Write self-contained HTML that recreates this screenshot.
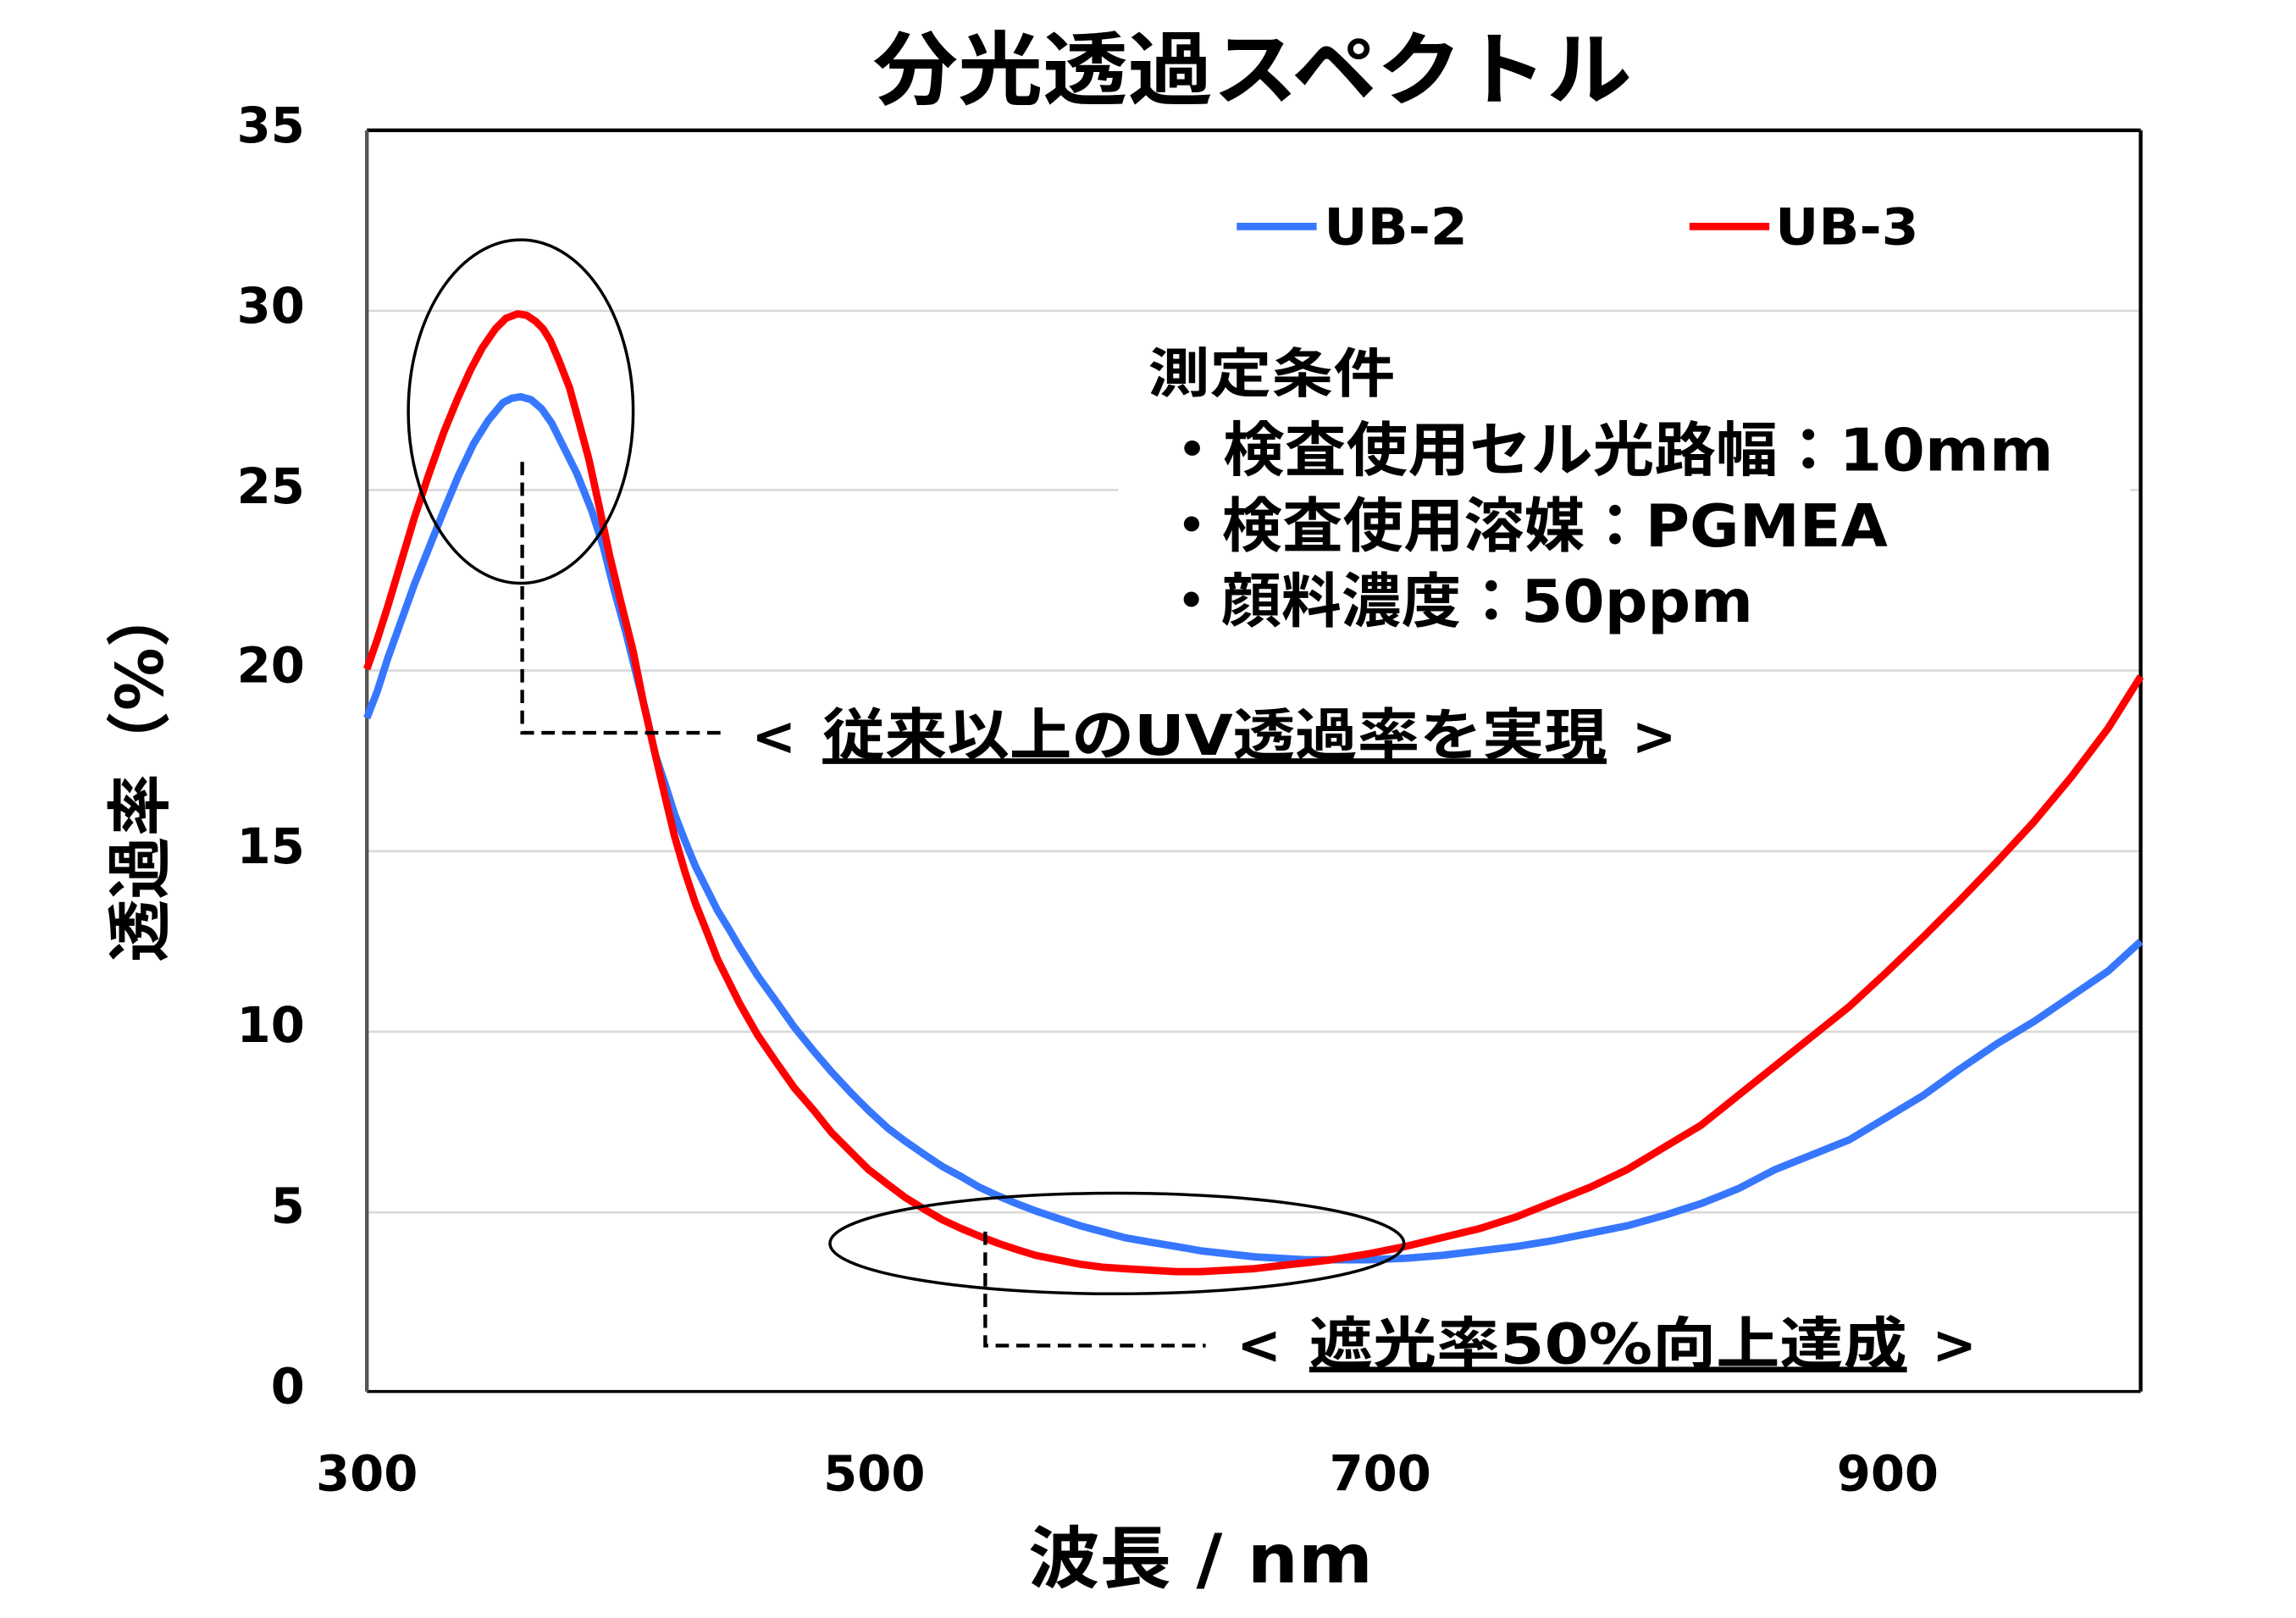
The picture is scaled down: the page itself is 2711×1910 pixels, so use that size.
<!DOCTYPE html>
<html><head><meta charset="utf-8"><style>
html,body{margin:0;padding:0;background:#fff;}
svg{display:block;}
text{font-family:"DejaVu Sans","Noto Sans CJK JP",sans-serif;font-weight:bold;fill:#000;}
</style></head><body>
<svg width="2711" height="1910" viewBox="0 0 1552 1093" preserveAspectRatio="none" xmlns="http://www.w3.org/2000/svg">
<rect width="1552" height="1093" fill="#fff"/>
<text x="590" y="66" font-size="54" textLength="513" lengthAdjust="spacingAndGlyphs">分光透過スペクトル</text>
<g stroke="#d9d9d9" stroke-width="1.5">
<line x1="248" y1="819" x2="1447" y2="819"/>
<line x1="248" y1="697" x2="1447" y2="697"/>
<line x1="248" y1="575" x2="1447" y2="575"/>
<line x1="248" y1="453" x2="1447" y2="453"/>
<line x1="248" y1="331" x2="1447" y2="331"/>
<line x1="248" y1="210" x2="1447" y2="210"/>
</g>
<rect x="756" y="216" width="684" height="225" fill="#fff"/>
<line x1="248" y1="88" x2="1447" y2="88" stroke="#000" stroke-width="2.5"/>
<line x1="1447" y1="88" x2="1447" y2="940" stroke="#000" stroke-width="2.5"/>
<line x1="248" y1="940" x2="1447" y2="940" stroke="#000" stroke-width="2"/>
<line x1="248" y1="88" x2="248" y2="940" stroke="#555" stroke-width="2.5"/>
<g font-size="33" text-anchor="end">
<text x="206" y="96">35</text>
<text x="206" y="218">30</text>
<text x="206" y="340">25</text>
<text x="206" y="461">20</text>
<text x="206" y="583">15</text>
<text x="206" y="704">10</text>
<text x="206" y="826">5</text>
<text x="206" y="948">0</text>
</g>
<g font-size="33" text-anchor="middle">
<text x="248" y="1007">300</text>
<text x="591" y="1007">500</text>
<text x="933" y="1007">700</text>
<text x="1276" y="1007">900</text>
</g>
<text x="695" y="1069" font-size="46" textLength="233" lengthAdjust="spacingAndGlyphs">波長 / nm</text>
<text transform="translate(110,650) rotate(-90)" font-size="44" textLength="255" lengthAdjust="spacingAndGlyphs">透過率（%）</text>
<line x1="836" y1="153" x2="890" y2="153" stroke="#3777ff" stroke-width="5"/>
<text x="895" y="165" font-size="34" textLength="97" lengthAdjust="spacingAndGlyphs">UB-2</text>
<line x1="1142" y1="153" x2="1196" y2="153" stroke="#ff0000" stroke-width="5"/>
<text x="1200" y="165" font-size="34" textLength="97" lengthAdjust="spacingAndGlyphs">UB-3</text>
<text x="776" y="265" font-size="36" textLength="167" lengthAdjust="spacingAndGlyphs">測定条件</text>
<text x="785" y="318" font-size="40" fill="#222" textLength="603" lengthAdjust="spacingAndGlyphs">・検査使用セル光路幅：10mm</text>
<text x="785" y="369" font-size="40" textLength="491" lengthAdjust="spacingAndGlyphs">・検査使用溶媒：PGMEA</text>
<text x="785" y="420" font-size="40" textLength="400" lengthAdjust="spacingAndGlyphs">・顔料濃度：50ppm</text>
<polyline fill="none" stroke="#3777ff" stroke-width="5" stroke-linejoin="round" points="248,485 255,467 262,445 271,420 280,395 290,370 300,345 310,321 320,300 330,284 340,272 346,269 352,268 359,270 366,276 373,286 380,300 390,320 400,345 408,370 415,398 423,427 430,455 437,483 443,510 450,531 456,550 463,568 470,585 478,601 485,615 493,628 500,640 512,659 525,677 537,694 550,710 562,724 575,738 587,750 600,762 612,771 625,780 637,788 650,795 662,802 675,808 687,813 700,818 715,823 730,828 745,832 760,836 777,839 795,842 812,845 830,847 848,849 865,850 883,851 900,851 925,851 950,850 975,848 1000,845 1025,842 1050,838 1075,833 1100,828 1125,821 1150,813 1175,803 1200,790 1225,780 1250,770 1275,755 1300,740 1325,722 1350,705 1375,690 1400,673 1425,656 1447,636"/>
<polyline fill="none" stroke="#ff0000" stroke-width="5" stroke-linejoin="round" points="248,452 255,432 262,410 271,380 280,350 290,320 300,292 309,270 318,250 326,235 335,222 342,215 350,212 356,213 362,217 367,222 372,230 378,244 385,262 391,284 398,310 405,342 412,375 420,408 428,440 435,475 443,510 450,540 456,565 463,589 470,610 478,630 485,648 493,664 500,678 512,699 525,718 537,735 550,750 562,765 575,778 587,790 600,800 612,809 625,817 637,824 650,830 662,835 675,840 687,844 700,848 715,851 730,854 745,856 760,857 777,858 795,859 812,859 830,858 848,857 865,855 883,853 900,851 925,847 950,842 975,836 1000,830 1025,822 1050,812 1075,802 1100,790 1125,775 1150,760 1175,740 1200,720 1225,700 1250,680 1275,657 1300,633 1325,608 1350,582 1375,555 1400,525 1425,492 1447,457"/>
<ellipse cx="352" cy="278" rx="76" ry="116" fill="none" stroke="#000" stroke-width="2"/>
<ellipse cx="755" cy="840" rx="194" ry="34" fill="none" stroke="#000" stroke-width="2"/>
<g stroke="#000" stroke-width="2.5" stroke-dasharray="9,5" fill="none">
<polyline points="353,312 353,495 487,495"/>
<polyline points="666,832 666,909 815,909"/>
</g>
<text x="508" y="510" font-size="36">&lt;</text>
<text x="556" y="510" font-size="38" text-decoration="underline" textLength="530" lengthAdjust="spacingAndGlyphs">従来以上のUV透過率を実現</text>
<text x="1103" y="510" font-size="36">&gt;</text>
<text x="836" y="921" font-size="36">&lt;</text>
<text x="885" y="921" font-size="38" text-decoration="underline" textLength="404" lengthAdjust="spacingAndGlyphs">遮光率50%向上達成</text>
<text x="1306" y="921" font-size="36">&gt;</text>
</svg>
</body></html>
